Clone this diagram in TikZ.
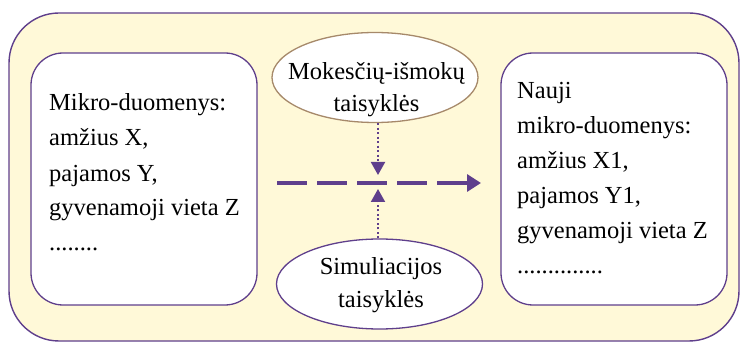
\documentclass[tikz,border=0pt]{standalone}
\usepackage{fontspec}
\setmainfont{Liberation Serif}
\usetikzlibrary{shapes.geometric,arrows.meta}
\definecolor{vio}{RGB}{95,63,140}
\definecolor{cream}{RGB}{255,249,216}
\definecolor{tan}{RGB}{166,137,106}
\tikzset{
  databox/.style={draw=vio, line width=1.3pt, fill=white, rounded corners=32pt},
  txt/.style={font=\fontsize{24.5}{35}\selectfont, inner sep=0pt, align=left},
  etxt/.style={inner sep=0pt, align=center},
  rule/.style={ellipse, fill=white, line width=1.3pt, inner sep=0pt, minimum width=206pt, minimum height=90pt},
  dotarrow/.style={draw=vio, line width=2pt, dash pattern=on 2pt off 2.5pt, -{Triangle[width=14pt,length=13pt]}},
  mainarrow/.style={draw=vio, line width=3.3pt, dash pattern=on 30pt off 10pt, -{Triangle[width=17pt,length=14pt]}}
}
\begin{document}
\begin{tikzpicture}[x=1pt,y=-1pt]
\useasboundingbox (0,0) rectangle (740,342);
\draw[draw=vio, line width=1.4pt, fill=cream, rounded corners=50pt] (9,13) rectangle (739,341);
\draw[databox] (31,53) rectangle (257,305);
\draw[databox] (501,53) rectangle (727,305);
\node[txt, anchor=base west] (lt) at (49,251) {Mikro-duomenys:\\amžius X,\\pajamos Y,\\gyvenamoji vieta Z\\........};
\node[txt, anchor=base west] (rt) at (517,273) {Nauji\\mikro-duomenys:\\amžius X1,\\pajamos Y1,\\gyvenamoji vieta Z\\..............};
\node[rule, draw=tan] (tax) at (375,77.5) {};
\node[rule, draw=vio] (sim) at (379.5,284) {};
\node[etxt, font=\fontsize{24.5}{32}\selectfont, anchor=base] (taxt) at (376.5,112) {Mokesčių-išmokų\\taisyklės};
\node[etxt, font=\fontsize{24.5}{33}\selectfont, anchor=base] (simt) at (381,308) {Simuliacijos\\taisyklės};
\coordinate (ms) at (277,183);
\coordinate (me) at (481,183);
\coordinate (ta) at (378,175);
\coordinate (tb) at (378,189);
\draw[mainarrow] (ms) -- (me);
\draw[dotarrow] (ta |- tax.south) -- (ta);
\draw[dotarrow] (tb |- sim.north) -- (tb);
\end{tikzpicture}
\end{document}
